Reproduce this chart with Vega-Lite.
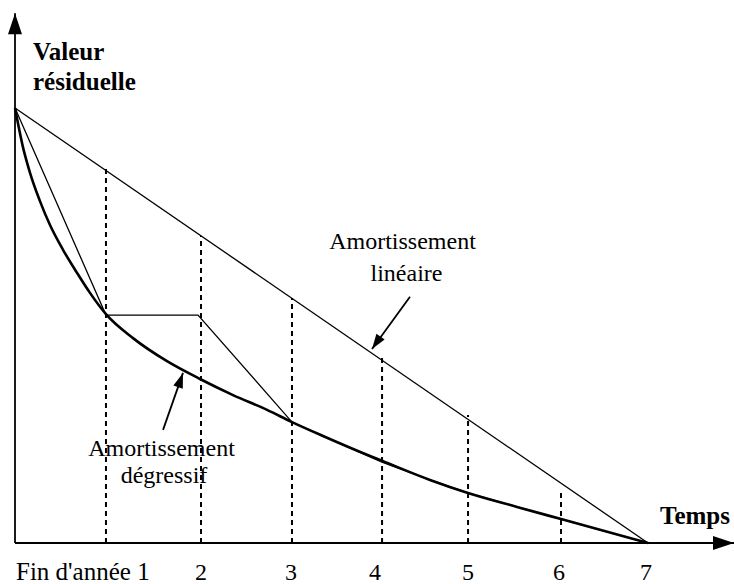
{
  "$schema": "https://vega.github.io/schema/vega-lite/v6.json",
  "width": 734,
  "height": 584,
  "autosize": "none",
  "padding": 0,
  "background": "white",
  "config": {"view": {"stroke": null}, "text": {"font": "Liberation Serif, Times New Roman, DejaVu Serif, serif"}},
  "datasets": {
    "curve": [
      {"t": 0, "v": 100}, {"t": 0.088, "v": 91.0}, {"t": 0.166, "v": 85.1}, {"t": 0.276, "v": 78.6},
      {"t": 0.387, "v": 73.1}, {"t": 0.531, "v": 67.4}, {"t": 0.686, "v": 62.1}, {"t": 0.829, "v": 57.5},
      {"t": 1.006, "v": 52.6}, {"t": 1.305, "v": 47.1}, {"t": 1.681, "v": 41.8}, {"t": 2.046, "v": 37.7},
      {"t": 2.411, "v": 34.0}, {"t": 2.787, "v": 30.6}, {"t": 3.063, "v": 27.8}, {"t": 3.406, "v": 24.6},
      {"t": 3.926, "v": 20.0}, {"t": 4.058, "v": 18.9}, {"t": 4.589, "v": 14.5}, {"t": 5.009, "v": 11.5},
      {"t": 5.551, "v": 8.3}, {"t": 6.038, "v": 5.5}, {"t": 7.0, "v": 0}
    ],
    "thin": [
      {"t": 0, "v": 100}, {"t": 1.006, "v": 52.4}, {"t": 2.024, "v": 52.4}, {"t": 3.063, "v": 27.8},
      {"t": 4.058, "v": 18.6}, {"t": 4.589, "v": 14.5}, {"t": 5.009, "v": 11.5}, {"t": 5.551, "v": 8.3},
      {"t": 6.038, "v": 5.5}, {"t": 7.0, "v": 0}
    ],
    "linear": [{"t": 0, "v": 100}, {"t": 7, "v": 0}],
    "dotted": [
      {"t": 1.006, "v": 0, "v2": 86.4}, {"t": 2.057, "v": 0, "v2": 70.6}, {"t": 3.063, "v": 0, "v2": 56.3},
      {"t": 4.059, "v": 0, "v2": 43.2}, {"t": 5.01, "v": 0, "v2": 29.4}, {"t": 6.038, "v": 0, "v2": 12.2}
    ],
    "arrows": [
      {"name": "yaxis", "t": 0, "v": 0, "t2": 0, "v2": 121.8},
      {"name": "xaxis", "t": 0, "v": 0, "t2": 7.951, "v2": 0},
      {"name": "lin", "t": 4.368, "v": 56.6, "t2": 3.948, "v2": 44.6},
      {"name": "deg", "t": 1.637, "v": 26.0, "t2": 1.858, "v2": 39.1}
    ],
    "ticklabels": [
      {"t": 2.057, "v": -8.5, "label": "2"}, {"t": 3.052, "v": -8.5, "label": "3"},
      {"t": 3.981, "v": -8.5, "label": "4"}, {"t": 5.01, "v": -8.5, "label": "5"},
      {"t": 6.016, "v": -8.5, "label": "6"}, {"t": 6.978, "v": -8.5, "label": "7"}
    ],
    "first": [{"t": 0.011, "v": -8.5, "label": "Fin d'année 1"}],
    "titles": [
      {"t": 0.199, "v": 111.0, "label": "Valeur"},
      {"t": 0.199, "v": 104.1, "label": "résiduelle"},
      {"t": 7.133, "v": 4.37, "label": "Temps"}
    ],
    "notes": [
      {"t": 4.285, "v": 67.6, "label": "Amortissement"},
      {"t": 4.329, "v": 60.2, "label": "linéaire"},
      {"t": 1.62, "v": 19.9, "label": "Amortissement"},
      {"t": 1.648, "v": 13.8, "label": "dégressif"}
    ]
  },
  "encoding": {
    "x": {"field": "t", "type": "quantitative", "scale": {"domain": [-0.1659, 7.951], "nice": false, "zero": false}, "axis": null},
    "y": {"field": "v", "type": "quantitative", "scale": {"domain": [-9.425, 124.83], "nice": false, "zero": false}, "axis": null}
  },
  "layer": [
    {"data": {"name": "dotted"}, "mark": {"type": "rule", "color": "black", "strokeWidth": 2, "strokeDash": [5, 4]},
     "encoding": {"y2": {"field": "v2"}}},
    {"data": {"name": "linear"}, "mark": {"type": "line", "color": "black", "strokeWidth": 1.3}, "encoding": {}},
    {"data": {"name": "thin"}, "mark": {"type": "line", "color": "black", "strokeWidth": 1.3}, "encoding": {}},
    {"data": {"name": "curve"}, "mark": {"type": "line", "color": "black", "strokeWidth": 2.6, "interpolate": "monotone"}, "encoding": {}},
    {"data": {"name": "arrows"}, "mark": {"type": "rule", "color": "black", "strokeWidth": 1.8},
     "encoding": {"x2": {"field": "t2"}, "y2": {"field": "v2"}}},
    {"data": {"name": "arrows"}, "transform": [{"filter": "datum.name == 'yaxis'"}],
     "mark": {"type": "point", "shape": "M0,0L-0.333,1L0.333,1Z", "filled": true, "color": "black", "opacity": 1, "size": 1764, "angle": 0},
     "encoding": {"x": {"field": "t2", "type": "quantitative"}, "y": {"field": "v2", "type": "quantitative"}}},
    {"data": {"name": "arrows"}, "transform": [{"filter": "datum.name == 'xaxis'"}],
     "mark": {"type": "point", "shape": "M0,0L-0.333,1L0.333,1Z", "filled": true, "color": "black", "opacity": 1, "size": 1764, "angle": 90},
     "encoding": {"x": {"field": "t2", "type": "quantitative"}, "y": {"field": "v2", "type": "quantitative"}}},
    {"data": {"name": "arrows"}, "transform": [{"filter": "datum.name == 'lin'"}],
     "mark": {"type": "point", "shape": "M0,0L-0.333,1L0.333,1Z", "filled": true, "color": "black", "opacity": 1, "size": 900, "angle": 214.6},
     "encoding": {"x": {"field": "t2", "type": "quantitative"}, "y": {"field": "v2", "type": "quantitative"}}},
    {"data": {"name": "arrows"}, "transform": [{"filter": "datum.name == 'deg'"}],
     "mark": {"type": "point", "shape": "M0,0L-0.333,1L0.333,1Z", "filled": true, "color": "black", "opacity": 1, "size": 900, "angle": 19.3},
     "encoding": {"x": {"field": "t2", "type": "quantitative"}, "y": {"field": "v2", "type": "quantitative"}}},
    {"data": {"name": "ticklabels"}, "mark": {"type": "text", "font": "Liberation Serif, Times New Roman, DejaVu Serif, serif", "fontSize": 24, "align": "center", "baseline": "alphabetic", "color": "black"},
     "encoding": {"text": {"field": "label"}}},
    {"data": {"name": "first"}, "mark": {"type": "text", "font": "Liberation Serif, Times New Roman, DejaVu Serif, serif", "fontSize": 25, "align": "left", "baseline": "alphabetic", "color": "black"},
     "encoding": {"text": {"field": "label"}}},
    {"data": {"name": "titles"}, "mark": {"type": "text", "font": "Liberation Serif, Times New Roman, DejaVu Serif, serif", "fontSize": 25, "fontWeight": "bold", "align": "left", "baseline": "alphabetic", "color": "black"},
     "encoding": {"text": {"field": "label"}}},
    {"data": {"name": "notes"}, "mark": {"type": "text", "font": "Liberation Serif, Times New Roman, DejaVu Serif, serif", "fontSize": 24, "align": "center", "baseline": "alphabetic", "color": "black"},
     "encoding": {"text": {"field": "label"}}}
  ]
}
